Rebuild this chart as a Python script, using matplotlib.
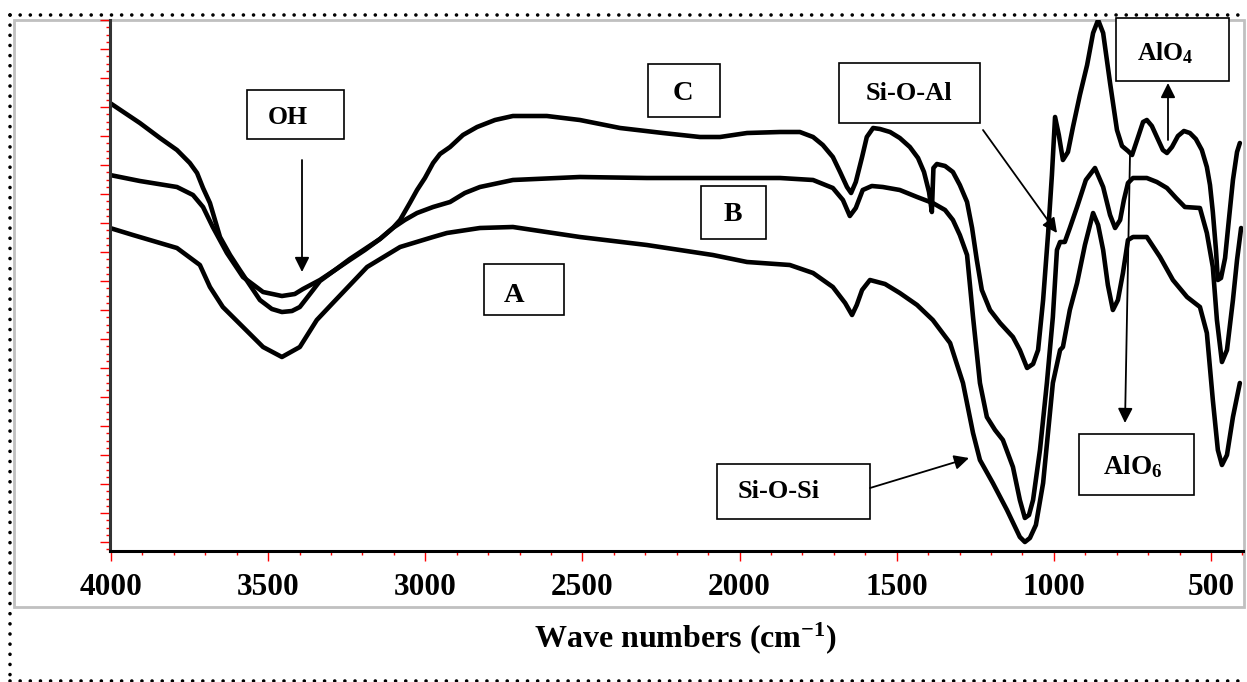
import matplotlib
matplotlib.use("Agg")
import matplotlib.pyplot as plt
import matplotlib.patches as mpatches
from matplotlib.lines import Line2D
from matplotlib.ticker import MultipleLocator, NullFormatter

plt.rcParams["font.family"] = ["Liberation Serif", "DejaVu Serif"]
plt.rcParams["font.weight"] = "bold"
plt.rcParams["mathtext.fontset"] = "custom"
plt.rcParams["mathtext.rm"] = "Liberation Serif:bold"
plt.rcParams["mathtext.it"] = "Liberation Serif:bold"
plt.rcParams["mathtext.bf"] = "Liberation Serif:bold"

# wave numbers (cm-1) and transmittance (a.u.)
wn_A = [4003, 3930, 3790, 3717, 3685, 3644, 3580, 3516, 3456, 3399, 3345, 3294, 3185,
        3080, 2975, 2931, 2826, 2721, 2508, 2295, 2085, 1976, 1840, 1766, 1703, 1664,
        1642, 1627, 1610, 1585, 1537, 1490, 1435, 1385, 1330, 1289, 1257, 1235, 1194,
        1149, 1108, 1092, 1076, 1057, 1034, 1003, 980, 971, 949, 926, 901, 875, 859,
        843, 828, 812, 796, 780, 764, 748, 704, 662, 621, 576, 535, 513, 494, 478, 465,
        449, 430, 408]
t_A = [323, 316, 303, 286, 264, 244, 224, 204, 194, 204, 231, 248, 284,
       304, 314, 318, 323, 324, 314, 306, 296, 289, 286, 278, 264, 248,
       236, 246, 261, 271, 267, 258, 246, 231, 208, 168, 118, 91, 68,
       41, 14, 9, 13, 26, 68, 168, 201, 204, 241, 268, 306, 338, 326,
       301, 266, 241, 251, 278, 311, 314, 314, 294, 271, 254, 244, 218, 151, 101, 86,
       96, 134, 168]

wn_B = [4003, 3908, 3790, 3739, 3707, 3676, 3631, 3580, 3516, 3456, 3415, 3389, 3335,
        3287, 3240, 3192, 3144, 3103, 3065, 3026, 2975, 2921, 2874, 2826, 2721, 2508,
        2295, 2085, 1871, 1766, 1703, 1671, 1649, 1630, 1608, 1579, 1544, 1490, 1435,
        1385, 1346, 1321, 1299, 1276, 1257, 1235, 1213, 1187, 1162, 1130, 1108, 1092,
        1079, 1066, 1044, 1022, 1003, 990, 980, 965, 949, 926, 898, 869, 843, 821, 805,
        789, 777, 764, 748, 704, 672, 640, 611, 583, 535, 513, 494, 481, 465, 449, 430,
        417, 404]
t_B = [376, 370, 364, 356, 344, 324, 298, 274, 259, 255, 257, 262, 271,
       281, 291, 301, 312, 323, 331, 338, 344, 349, 358, 364, 371, 374,
       373, 373, 373, 371, 363, 351, 335, 343, 361, 365, 364, 361, 354,
       348, 341, 331, 316, 296, 234, 168, 134, 121, 111, 84, 51, 33,
       36, 51, 101, 168, 234, 301, 309, 309, 323, 344, 371, 383, 364, 336, 323,
       331, 351, 368, 373, 373, 369, 363, 353, 344, 343, 318, 284, 231, 189, 201, 251,
       291, 323]

wn_C = [4003, 3908, 3844, 3790, 3749, 3726, 3707, 3685, 3653, 3621, 3590, 3526, 3488,
        3456, 3424, 3399, 3357, 3335, 3287, 3240, 3192, 3144, 3103, 3080, 3049, 3026,
        3001, 2975, 2953, 2921, 2880, 2835, 2778, 2721, 2613, 2508, 2380, 2244, 2126,
        2062, 1976, 1871, 1808, 1766, 1735, 1703, 1680, 1658, 1645, 1630, 1610, 1595,
        1575, 1553, 1521, 1490, 1458, 1432, 1413, 1397, 1388, 1383, 1372, 1346, 1321,
        1299, 1276, 1260, 1245, 1229, 1203, 1171, 1130, 1108, 1085, 1066, 1050, 1034,
        1018, 1006, 996, 984, 971, 955, 939, 917, 894, 875, 859, 843, 821, 799, 783,
        764, 751, 735, 716, 704, 688, 672, 653, 640, 624, 605, 586, 567, 548, 529, 513,
        503, 494, 484, 478, 468, 455, 443, 430, 417, 408]
t_C = [448, 428, 413, 401, 388, 378, 363, 348, 314, 296, 281, 251, 242,
       239, 240, 244, 261, 270, 281, 292, 302, 312, 323, 331, 348, 361,
       373, 388, 397, 404, 416, 424, 431, 435, 435, 431, 423, 418, 414,
       414, 418, 419, 419, 414, 406, 394, 379, 364, 358, 369, 394, 414,
       423, 422, 419, 413, 404, 393, 379, 359, 339, 383, 387, 385, 379,
       366, 349, 323, 291, 261, 241, 228, 214, 201, 183, 187, 201, 251,
       318, 376, 434, 416, 391, 399, 424, 456, 486, 518, 531, 518, 468, 421, 405,
       400, 396, 411, 429, 431, 425, 414, 401, 398, 404, 415, 420, 418, 412, 401, 384,
       366, 339, 301, 271, 273, 293, 331, 371, 399, 408]

W, H = 1247, 682


def fx(x):
    return x / W


def fy(y):
    return 1 - y / H


fig = plt.figure(figsize=(W / 100, H / 100), dpi=100)
fig.patch.set_facecolor("white")

# dotted outer border and grey inner frame
dot = dict(color="black", lw=2.6, linestyle=(0, (0.01, 2.8)), dash_capstyle="round")
fig.add_artist(Line2D([fx(10), fx(1246)], [fy(15), fy(15)], **dot))
fig.add_artist(Line2D([fx(10), fx(1246)], [fy(681), fy(681)], **dot))
fig.add_artist(Line2D([fx(10), fx(10)], [fy(15), fy(681)], **dot))
fig.add_artist(mpatches.Rectangle((fx(14), fy(607)), fx(1244) - fx(14), fy(20) - fy(607),
                                  transform=fig.transFigure, fill=False,
                                  edgecolor="#c0c0c0", lw=2, zorder=-1))

ax = fig.add_axes([fx(110), fy(551), fx(1243) - fx(110), fy(20) - fy(551)])
ax.patch.set_alpha(0)

for wn, t in [(wn_A, t_A), (wn_B, t_B), (wn_C, t_C)]:
    ax.plot(wn, t, color="black", lw=3.3, solid_joinstyle="round", solid_capstyle="round")

ax.set_xlim(4003, 398)
ax.set_ylim(0, 531)

ax.spines["top"].set_visible(False)
ax.spines["right"].set_visible(False)
ax.spines["left"].set_color("#333333")
ax.spines["left"].set_linewidth(2.2)
ax.spines["bottom"].set_color("black")
ax.spines["bottom"].set_linewidth(2.2)

ax.xaxis.set_major_locator(MultipleLocator(500))
ax.xaxis.set_minor_locator(MultipleLocator(100))
ax.yaxis.set_major_locator(MultipleLocator(29, offset=9))
ax.yaxis.set_minor_locator(MultipleLocator(29 / 4, offset=9))
ax.yaxis.set_major_formatter(NullFormatter())
ax.tick_params(axis="x", which="major", direction="out", length=7, width=1,
               color="red", labelsize=22.5, pad=9)
ax.tick_params(axis="x", which="minor", direction="out", length=3, width=1, color="red")
ax.tick_params(axis="y", which="major", direction="out", length=7, width=1, color="red")
ax.tick_params(axis="y", which="minor", direction="out", length=3, width=1, color="red")
for lab in ax.get_xticklabels():
    lab.set_fontweight("bold")

fig.text(fx(685), fy(638), r"Wave numbers (cm$^{-1}$)", ha="center", va="center",
         fontsize=23, fontweight="bold")

# labelled boxes: (text, x0, y0, x1, y1, text x, text y, fontsize)
boxes = [
    ("OH", 247, 90, 344, 139, 288, 117, 18.5),
    ("C", 648, 64, 720, 117, 683, 93, 20.5),
    ("B", 701, 186, 766, 239, 733, 215, 20),
    ("A", 484, 264, 564, 315, 514, 295, 20.5),
    ("Si-O-Al", 839, 63, 980, 123, 909, 93, 19),
    ("Si-O-Si", 717, 464, 870, 519, 779, 492, 19),
    (r"AlO$_4$", 1116, 18, 1229, 81, 1165, 53, 18.5),
    (r"AlO$_6$", 1079, 434, 1194, 495, 1133, 467, 19.5),
]
for txt, x0, y0, x1, y1, tx, ty, fs in boxes:
    fig.add_artist(mpatches.Rectangle((fx(x0), fy(y1)), fx(x1) - fx(x0), fy(y0) - fy(y1),
                                      transform=fig.transFigure, facecolor="white",
                                      edgecolor="black", lw=1.2, zorder=5))
    fig.text(fx(tx), fy(ty), txt, ha="center", va="center", fontsize=fs,
             fontweight="bold", zorder=6)

arrows = [
    ((302, 160), (302, 272)),
    ((983, 130), (1057, 233)),
    ((870, 488), (969, 458)),
    ((1168, 140), (1168, 83)),
    ((1130, 155), (1125, 423)),
]
for (x0, y0), (x1, y1) in arrows:
    fig.add_artist(mpatches.FancyArrowPatch((fx(x0), fy(y0)), (fx(x1), fy(y1)),
                                            transform=fig.transFigure, arrowstyle="-|>",
                                            mutation_scale=22, lw=1.3, color="black",
                                            shrinkA=0, shrinkB=0, zorder=7))

fig.savefig("out.png", dpi=100, facecolor="white")
